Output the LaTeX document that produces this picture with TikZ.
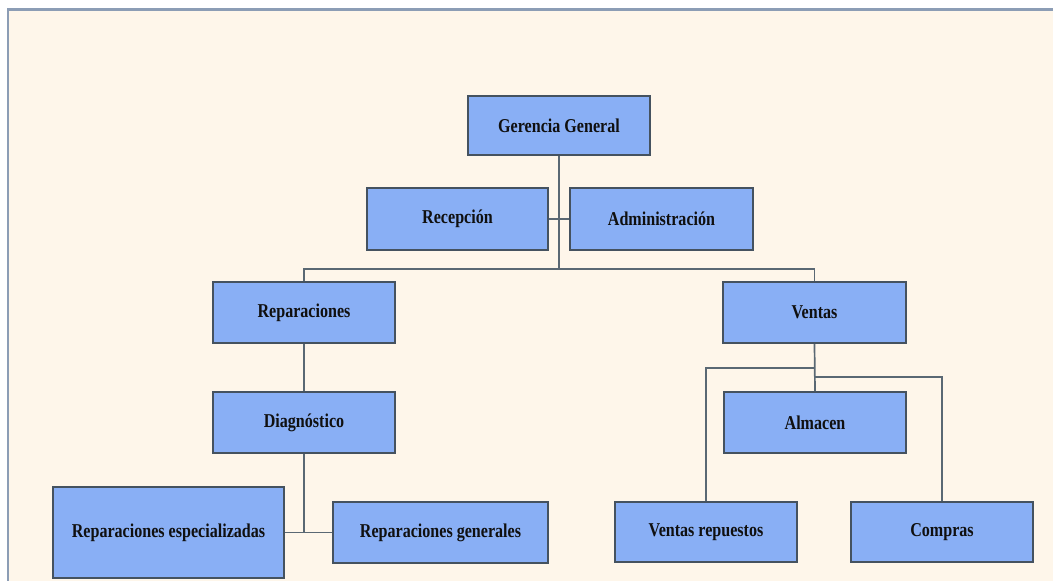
\documentclass[tikz,border=0pt]{standalone}
\usepackage{fontspec}
\usepackage{graphicx}
\setmainfont{Liberation Serif}
\definecolor{pagebg}{HTML}{FEF6EA}
\definecolor{frameline}{HTML}{8C9DB5}
\definecolor{boxfill}{HTML}{89AFF5}
\definecolor{boxedge}{HTML}{45525F}
\definecolor{wire}{HTML}{5A6873}
\definecolor{ink}{HTML}{101010}
\newcommand\orglabel[1]{\scalebox{0.82}[1]{#1}}
\tikzset{
  unit/.style={draw=boxedge, fill=boxfill, line width=1.6pt, inner sep=0pt,
    text=ink, font=\bfseries\fontsize{19.6}{22}\selectfont},
  wiring/.style={draw=wire, line width=1.7pt},
}
\begin{document}
\begin{tikzpicture}[x=1pt, y=-1pt]
  \useasboundingbox (0,0) rectangle (1053,581);
  % page and its frame
  \fill[white] (0,0) rectangle (1053,581);
  \fill[pagebg] (7,9) rectangle (1053,581);
  \draw[frameline, line width=2.4pt] (8,581) -- (8,9.5) -- (1053,9.5);

  % units
  \node[unit, minimum width=182pt, minimum height=59pt] (gg)   at (559,125.5) {\orglabel{Gerencia General}};
  \node[unit, minimum width=181pt, minimum height=62pt] (rec)  at (457.5,219) {\orglabel{Recepción}};
  \node[unit, minimum width=183pt, minimum height=62pt] (adm)  at (661.5,219) {\orglabel{Administración}};
  \node[unit, minimum width=182pt, minimum height=61pt] (rep)  at (304,312.5) {\orglabel{Reparaciones}};
  \node[unit, minimum width=183pt, minimum height=61pt] (ven)  at (814.5,312.5) {\orglabel{Ventas}};
  \node[unit, minimum width=182pt, minimum height=61pt] (diag) at (304,422.5) {\orglabel{Diagnóstico}};
  \node[unit, minimum width=182pt, minimum height=61pt] (alm)  at (815,422.5) {\orglabel{Almacen}};
  \node[unit, minimum width=231pt, minimum height=91pt] (resp) at (168.5,532.5) {\orglabel{Reparaciones especializadas}};
  \node[unit, minimum width=215pt, minimum height=61pt] (rgen) at (440.5,532.5) {\orglabel{Reparaciones generales}};
  \node[unit, minimum width=182pt, minimum height=60pt] (vrep) at (706,532) {\orglabel{Ventas repuestos}};
  \node[unit, minimum width=182pt, minimum height=60pt] (comp) at (942,532) {\orglabel{Compras}};

  % bus and junction points
  \coordinate (bus) at (559,269);
  \coordinate (vsplitL) at (814,368);
  \coordinate (vsplitR) at (814,377);

  % connectors
  \draw[wiring] (gg.south) -- (bus);
  \draw[wiring] (rec.east) -- (adm.west);
  \draw[wiring] (rep.north) |- (bus) -| (ven.north);
  \draw[wiring] (rep.south) -- (diag.north);
  \draw[wiring] (diag.south) -- (diag.south |- resp.east);
  \draw[wiring] (resp.east) -- (rgen.west);
  \draw[wiring] (ven.south) -- (alm.north);
  \draw[wiring] (vsplitL) -| (vrep.north);
  \draw[wiring] (vsplitR) -| (comp.north);
\end{tikzpicture}
\end{document}
